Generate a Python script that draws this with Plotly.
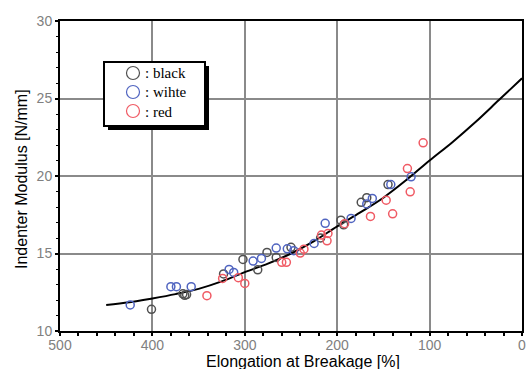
import plotly.graph_objects as go

# ---- data ----
black_x = [401, 367, 365, 363, 323, 302, 286, 276, 266, 250, 218, 196, 193, 174, 168, 145]
black_y = [11.4, 12.4, 12.3, 12.35, 13.68, 14.62, 13.95, 15.07, 14.75, 15.4, 16.0, 17.15, 16.85, 18.3, 18.6, 19.45]

blue_x = [424, 380, 374, 358, 317, 312, 291, 282, 266, 254, 247, 225, 213, 185, 168, 162, 142, 120]
blue_y = [11.68, 12.86, 12.86, 12.86, 13.97, 13.78, 14.51, 14.68, 15.35, 15.3, 15.18, 15.65, 16.95, 17.26, 18.2, 18.55, 19.45, 19.95]

red_x = [341, 324, 307, 300, 260, 255, 240, 236, 217, 211, 210, 192, 164, 147, 140, 124, 121, 107]
red_y = [12.28, 13.39, 13.44, 13.07, 14.43, 14.43, 15.03, 15.28, 16.19, 15.82, 16.29, 16.92, 17.39, 18.44, 17.56, 20.48, 18.98, 22.14]

curve_x = [450, 425, 400, 375, 350, 325, 300, 275, 250, 225, 200, 175, 150, 125, 100, 75, 50, 25, 0]
curve_y = [11.68, 11.85, 12.1, 12.38, 12.72, 13.2, 13.8, 14.35, 15.0, 15.8, 16.75, 17.65, 18.6, 19.75, 21.0, 22.2, 23.5, 24.9, 26.3]

legend_labels = [": black", ": wihte", ": red"]
colors = ["#505050", "#5064c0", "#f05a64"]

x_ticks = [500, 400, 300, 200, 100, 0]
y_ticks = [10, 15, 20, 25, 30]

x_title = "Elongation at Breakage [%]"
y_title = "Indenter Modulus [N/mm]"

L, R, T, B = 60, 522, 21, 331
W, H = R - L, B - T


def px(xp):
    return (xp - L) / W


def py(yp):
    return (B - yp) / H


fig = go.Figure()

fig.add_trace(go.Scatter(x=curve_x, y=curve_y, mode="lines", line=dict(color="black", width=2, shape="spline"),
                         showlegend=False, hoverinfo="skip"))

for xs, ys, c in zip([black_x, blue_x, red_x], [black_y, blue_y, red_y], colors):
    fig.add_trace(go.Scatter(x=xs, y=ys, mode="markers",
                             marker=dict(symbol="circle-open", size=8, color=c, line=dict(width=1.5, color=c)),
                             showlegend=False))

# ---- hand-drawn legend box with shadow ----
fig.add_shape(type="rect", xref="paper", yref="paper", x0=px(108), x1=px(209), y0=py(130), y1=py(66),
              fillcolor="black", line=dict(width=0), layer="above")
fig.add_shape(type="rect", xref="paper", yref="paper", x0=px(104), x1=px(205), y0=py(126), y1=py(62),
              fillcolor="white", line=dict(color="black", width=2), layer="above")
row_y = [73, 92, 111]
for ry, lab, c in zip(row_y, legend_labels, colors):
    fig.add_shape(type="circle", xref="paper", yref="paper", x0=px(126.5), x1=px(139.5), y0=py(ry + 6.5), y1=py(ry - 6.5),
                  line=dict(color=c, width=1.2), fillcolor="rgba(0,0,0,0)", layer="above")
    fig.add_annotation(text=lab, xref="paper", yref="paper", x=px(143), y=py(ry + 0.5), xanchor="left",
                       yanchor="middle", showarrow=False,
                       font=dict(family="Liberation Serif, Times New Roman", size=15, color="black"))

# axis titles
fig.add_annotation(text=x_title, xref="paper", yref="paper", x=px(303), y=py(361.5), xanchor="center",
                   yanchor="middle", showarrow=False,
                   font=dict(family="Liberation Sans, Arial", size=16, color="black"))
fig.add_annotation(text=y_title, xref="paper", yref="paper", x=px(21), y=py(179), xanchor="center",
                   yanchor="middle", showarrow=False, textangle=-90,
                   font=dict(family="Liberation Sans, Arial", size=16, color="black"))

tickfont = dict(family="Liberation Sans, Arial", size=14, color="#808080")

fig.update_layout(
    width=529, height=369,
    margin=dict(l=L, r=529 - R, t=T, b=369 - B, autoexpand=False),
    paper_bgcolor="white", plot_bgcolor="white",
    showlegend=False,
    xaxis=dict(range=[500, 0], tickvals=x_ticks, ticktext=[str(v) for v in x_ticks],
               automargin=False, ticklabelstandoff=-3,
               showgrid=True, gridcolor="#8a8a8a", gridwidth=1.5,
               showline=True, linecolor="black", linewidth=2, mirror=True,
               ticks="outside", ticklen=3, tickcolor="black", tickwidth=1.5,
               minor=dict(dtick=20, ticks="outside", ticklen=3, tickcolor="black", tickwidth=1.5, showgrid=False),
               tickfont=tickfont, zeroline=False),
    yaxis=dict(range=[10, 30], tickvals=y_ticks, ticktext=[str(v) for v in y_ticks],
               automargin=False,
               showgrid=True, gridcolor="#8a8a8a", gridwidth=1.5,
               showline=True, linecolor="black", linewidth=2, mirror=True,
               ticks="outside", ticklen=3, tickcolor="black", tickwidth=1.5,
               minor=dict(dtick=1, ticks="outside", ticklen=2, tickcolor="black", tickwidth=1, showgrid=False),
               tickfont=tickfont, zeroline=False),
)

fig.write_html("out.html", config={"displayModeBar": False},
               post_script="document.body.style.margin='0px';")
